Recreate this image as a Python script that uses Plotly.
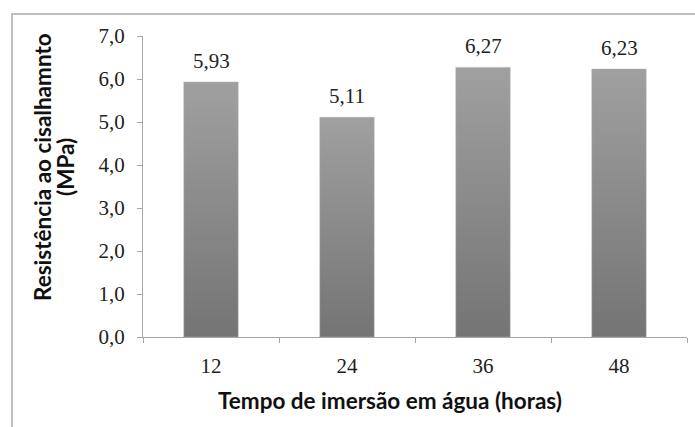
import plotly.graph_objects as go

# Shear strength vs. water immersion time
categories = ["12", "24", "36", "48"]
values = [5.93, 5.11, 6.27, 6.23]
y_ticks = [0, 1, 2, 3, 4, 5, 6, 7]
x_title = "Tempo de imersão em água (horas)"
y_title_lines = ["Resistência ao cisalhamnto", "(MPa)"]

W, H = 695, 427
L, R, T, B = 143, 8, 36, 90
half_width = 0.2
plot_w = W - L - R
plot_h = H - T - B

serif = dict(family="Liberation Serif", size=21, color="#222222")
title_font = dict(family="Lato", size=22.5, color="#111111", weight="bold")


def px_x(px):
    """Horizontal pixel position -> paper coordinate."""
    return (px - L) / plot_w


def px_y(py):
    """Vertical pixel position (from top) -> paper coordinate."""
    return (H - B - py) / plot_h


fig = go.Figure()

# Bars drawn as filled rectangles so each can carry a vertical gradient
for i, v in enumerate(values):
    fig.add_trace(go.Scatter(
        x=[i - half_width, i + half_width, i + half_width, i - half_width, i - half_width],
        y=[0, 0, v, v, 0],
        mode="lines",
        fill="toself",
        line=dict(color="rgba(175,175,175,0.6)", width=0.8),
        fillgradient=dict(
            type="vertical",
            start=0,
            stop=v,
            colorscale=[[0, "#747474"], [1, "#a0a0a0"]],
        ),
        hoverinfo="skip",
        showlegend=False,
    ))

# Value labels above the bars
for i, v in enumerate(values):
    fig.add_annotation(
        x=i, y=v, xref="x", yref="y",
        text=f"{v:.2f}".replace(".", ","),
        showarrow=False,
        yanchor="bottom",
        yshift=7,
        font=serif,
    )

# Axis titles
fig.add_annotation(
    x=px_x(390), y=px_y(400), xref="paper", yref="paper",
    text=x_title, showarrow=False,
    xanchor="center", yanchor="middle", font=title_font,
)
for line, cx in zip(y_title_lines, [42, 65]):
    fig.add_annotation(
        x=px_x(cx), y=px_y(167), xref="paper", yref="paper",
        text=line, showarrow=False, textangle=-90,
        xanchor="center", yanchor="middle", font=title_font,
    )

fig.update_layout(
    width=W,
    height=H,
    margin=dict(l=L, r=R, t=T, b=B),
    paper_bgcolor="white",
    plot_bgcolor="white",
    separators=",.",
    xaxis=dict(
        range=[-0.5, len(categories) - 0.5],
        tickmode="array",
        tickvals=list(range(len(categories))),
        ticktext=categories,
        ticks="",
        ticklabelstandoff=10,
        showgrid=False,
        zeroline=False,
        showline=True,
        linecolor="#a6a6a6",
        linewidth=1,
        tickfont=serif,
        minor=dict(tick0=-0.5, dtick=1, ticks="outside", ticklen=5,
                   tickcolor="#a6a6a6", showgrid=False),
    ),
    yaxis=dict(
        range=[0, 7],
        tickmode="array",
        tickvals=y_ticks,
        tickformat=".1f",
        ticks="outside",
        ticklen=5,
        tickcolor="#a6a6a6",
        ticklabelstandoff=8,
        showgrid=False,
        zeroline=False,
        showline=True,
        linecolor="#a6a6a6",
        linewidth=1,
        tickfont=serif,
    ),
)

# Outer frame of the chart area
fig.add_shape(
    type="rect", xref="paper", yref="paper",
    x0=px_x(12), x1=1.2,
    y0=-0.6, y1=px_y(14),
    line=dict(color="#c0c0c0", width=2),
    fillcolor="rgba(0,0,0,0)",
    layer="below",
)

fig.write_html("out.html")
